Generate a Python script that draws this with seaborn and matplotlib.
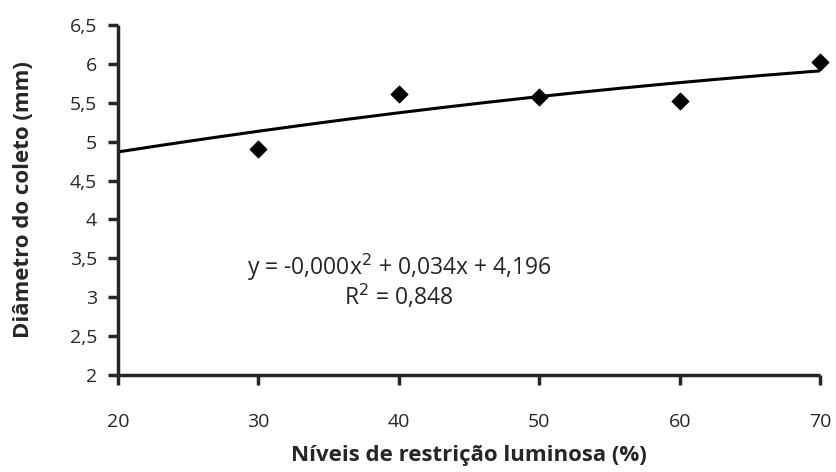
import numpy as np
import pandas as pd
import seaborn as sns
import matplotlib
matplotlib.use("Agg")
import matplotlib.pyplot as plt

sns.set_style("ticks")
plt.rcParams['font.family'] = ['Open Sans', 'DejaVu Sans']

# data
niveis = [30, 40, 50, 60, 70]
diametro = [4.91, 5.61, 5.57, 5.52, 6.02]

# trendline (quadratic) as drawn
trend_coef = [-0.000144, 0.0338, 4.25]
trend_range = [20, 70]

x_ticks = [20, 30, 40, 50, 60, 70]
y_ticks = [2, 2.5, 3, 3.5, 4, 4.5, 5, 5.5, 6, 6.5]
y_ticklabels = ["2", "2,5", "3", "3,5", "4", "4,5", "5", "5,5", "6", "6,5"]

df = pd.DataFrame({"nivel": niveis, "diametro": diametro})
xs = np.linspace(trend_range[0], trend_range[1], 200)
trend = pd.DataFrame({"nivel": xs, "diametro": np.polyval(trend_coef, xs)})

fig = plt.figure(figsize=(8.37, 4.72), dpi=100)
ax = fig.add_axes([0.141, 0.2055, 0.839, 0.7415])

sns.lineplot(data=trend, x="nivel", y="diametro", color="black", linewidth=2.2, ax=ax)
sns.scatterplot(data=df, x="nivel", y="diametro", marker="D", s=75, color="black",
                edgecolor="black", zorder=3, ax=ax)
for c in ax.collections:
    c.set_clip_on(False)

ax.set_xlim(20, 70)
ax.set_ylim(2, 6.5)
ax.set_xticks(x_ticks)
ax.set_yticks(y_ticks)
ax.set_yticklabels(y_ticklabels)
ax.tick_params(axis="both", direction="out", length=7, width=2.5, labelsize=14, pad=8)
ax.tick_params(axis="x", pad=20)
sns.despine(ax=ax)
for s in ["left", "bottom"]:
    ax.spines[s].set_linewidth(2.5)
    ax.spines[s].set_capstyle("butt")

ax.set_xlabel("Níveis de restrição luminosa (%)", fontsize=16, fontweight="bold")
ax.set_ylabel("Diâmetro do coleto (mm)", fontsize=16, fontweight="bold")
ax.xaxis.set_label_coords(0.5, -0.2)
ax.yaxis.set_label_coords(-0.12, 0.5)

ax.text(40, 3.38, "y = -0,000x$^2$ + 0,034x + 4,196", ha="center", va="center", fontsize=16.5)
ax.text(40, 3.0, "R$^2$ = 0,848", ha="center", va="center", fontsize=16.5)

fig.savefig("out.png", dpi=100)
